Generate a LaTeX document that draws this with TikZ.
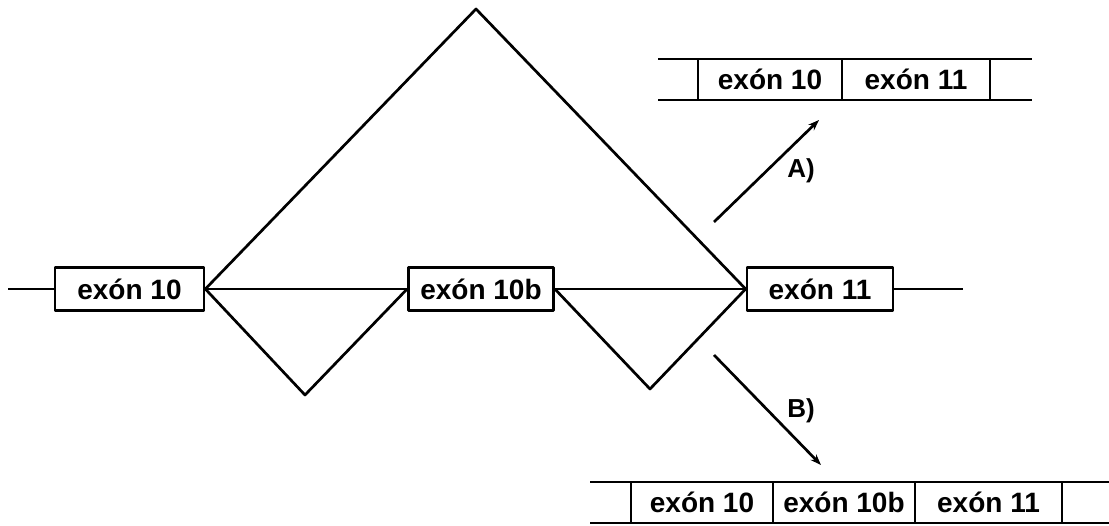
\documentclass[tikz,border=0pt]{standalone}
\usepackage{fontspec}
\setmainfont{Liberation Sans}
\usetikzlibrary{arrows.meta}
\begin{document}
\begin{tikzpicture}[x=1pt,y=-1pt,
  line width=2.7pt, line join=round,
  exon/.style={draw, minimum height=43pt, inner sep=0pt,
    font=\fontsize{28}{30}\selectfont\bfseries},
  cell/.style={draw, minimum height=41pt, inner sep=0pt,
    font=\fontsize{28}{30}\selectfont\bfseries},
  lab/.style={font=\fontsize{26}{28}\selectfont\bfseries},
  path/.style={-{Stealth[length=11pt,width=8pt]}}]
\useasboundingbox (0,0) rectangle (1109,526);

% gene with alternative exon 10b
\node[exon, minimum width=149pt] (e10)  at (129.5,289) {exón 10};
\node[exon, minimum width=145pt] (e10b) at (481,289)   {exón 10b};
\node[exon, minimum width=146pt] (e11)  at (820,289)   {exón 11};
\coordinate (left)  at (8,289);
\coordinate (right) at (963,289);
\coordinate (peak)  at (476,9);
\coordinate (v1)    at (305,395);
\coordinate (v2)    at (650,389);

\draw (left) -- (e10.west);
\draw (e11.east) -- (right);
\draw (e10.east) -- (e10b.west);
\draw (e10b.east) -- (e11.west);
% splicing joins
\draw (e10.east) -- (peak) -- (e11.west);
\draw (e10.east) -- (v1) -- (e10b.west);
\draw (e10b.east) -- (v2) -- (e11.west);

% products
\coordinate (a0) at (714,222);
\coordinate (a1) at (819,120);
\coordinate (b0) at (714,355);
\coordinate (b1) at (821,465);
\draw[path] (a0) -- (a1);
\draw[path] (b0) -- (b1);
\node[lab] (la) at (801,171) {A)};
\node[lab] (lb) at (801,411) {B)};

% transcript A
\coordinate (ta1) at (658,59);
\coordinate (ta2) at (1032,59);
\coordinate (ta3) at (658,100);
\coordinate (ta4) at (1032,100);
\draw (ta1) -- (ta2);
\draw (ta3) -- (ta4);
\node[cell, minimum width=144pt] (ca1) at (770,79.5) {exón 10};
\node[cell, minimum width=148pt] (ca2) at (916,79.5) {exón 11};

% transcript B
\coordinate (tb1) at (590,482);
\coordinate (tb2) at (1109,482);
\coordinate (tb3) at (590,523);
\coordinate (tb4) at (1109,523);
\draw (tb1) -- (tb2);
\draw (tb3) -- (tb4);
\node[cell, minimum width=142pt] (cb1) at (702,502.5)   {exón 10};
\node[cell, minimum width=142pt] (cb2) at (844,502.5)   {exón 10b};
\node[cell, minimum width=147pt] (cb3) at (988.5,502.5) {exón 11};
\end{tikzpicture}
\end{document}
